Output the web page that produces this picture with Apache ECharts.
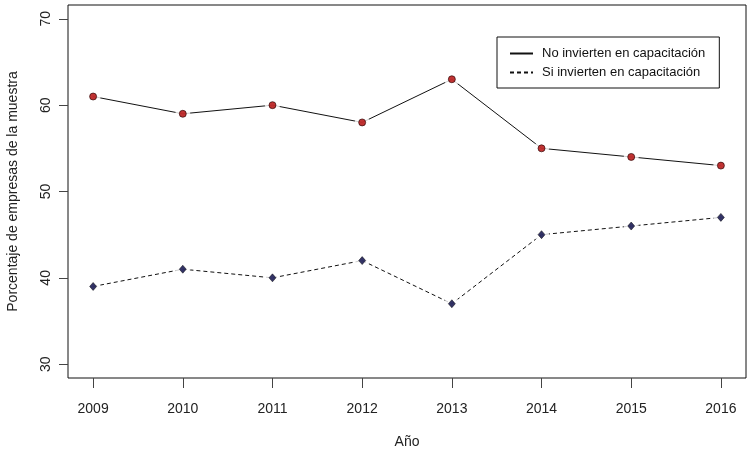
<!DOCTYPE html>
<html><head><meta charset="utf-8">
<script src="https://cdn.jsdelivr.net/npm/echarts@6/dist/echarts.min.js"></script>
<style>html,body{margin:0;padding:0;background:#fff}#c{width:754px;height:459px}</style>
</head><body><div id="c"></div>
<script>
const years = [2009, 2010, 2011, 2012, 2013, 2014, 2015, 2016];
const noInvierten = [61, 59, 60, 58, 63, 55, 54, 53];
const siInvierten = [39, 41, 40, 42, 37, 45, 46, 47];
const yTicks = [30, 40, 50, 60, 70];
const nameNo = 'No invierten en capacitación';
const nameSi = 'Si invierten en capacitación';

const pairs = arr => years.map((y, i) => [y, arr[i]]);
const font = '"Liberation Sans", Arial, sans-serif';
const chart = echarts.init(document.getElementById('c'), null, {renderer: 'canvas'});
chart.setOption({
  animation: false,
  backgroundColor: '#fff',
  grid: {left: 68, right: 8, top: 5, bottom: 81, show: true, borderColor: '#111', borderWidth: 1,
         containLabel: false, outerBoundsMode: 'none'},
  legend: {
    left: 497, top: 37, orient: 'vertical', data: [nameNo, nameSi],
    backgroundColor: '#fff', borderColor: '#111', borderWidth: 1,
    padding: [10, 14, 9, 12], itemGap: 6, itemWidth: 23, itemHeight: 10,
    itemStyle: {color: 'transparent', borderWidth: 0},
    textStyle: {fontFamily: font, fontSize: 13, color: '#111', padding: [0, 0, 0, 4]},
    selectedMode: false
  },
  xAxis: {
    type: 'value', min: 2008.72, max: 2016.28,
    name: 'Año', nameLocation: 'middle', nameGap: 57,
    nameTextStyle: {fontFamily: font, fontSize: 14, color: '#222'},
    axisLine: {show: false},
    splitLine: {show: false},
    axisTick: {show: true, length: 10, customValues: years, lineStyle: {color: '#444'}},
    axisLabel: {customValues: years, fontFamily: font, fontSize: 14, color: '#222', margin: 24, formatter: v => String(v)}
  },
  yAxis: {
    type: 'value', min: 28.4, max: 71.6,
    name: 'Porcentaje de empresas de la muestra', nameLocation: 'middle', nameGap: 48,
    nameTextStyle: {fontFamily: font, fontSize: 14, color: '#222'},
    axisLine: {show: false},
    splitLine: {show: false},
    axisTick: {show: true, length: 9, customValues: yTicks, lineStyle: {color: '#444'}},
    axisLabel: {customValues: yTicks, rotate: 90, fontFamily: font, fontSize: 14, color: '#222', margin: 15, formatter: v => String(v)}
  },
  series: [
    {name: nameNo, type: 'line', data: pairs(noInvierten), showSymbol: false, symbol: 'none',
     lineStyle: {color: '#111', width: 1, type: 'solid'}, itemStyle: {color: '#111'}, z: 1},
    {name: nameSi, type: 'line', data: pairs(siInvierten), showSymbol: false, symbol: 'none',
     lineStyle: {color: '#111', width: 1, type: [4, 3]}, itemStyle: {color: '#111'}, z: 1},
    {type: 'scatter', data: pairs(noInvierten), symbol: 'circle', symbolSize: 15,
     itemStyle: {color: '#fff'}, z: 2, silent: true},
    {type: 'scatter', data: pairs(siInvierten), symbol: 'circle', symbolSize: 15,
     itemStyle: {color: '#fff'}, z: 2, silent: true},
    {type: 'scatter', data: pairs(noInvierten), symbol: 'circle', symbolSize: 7,
     itemStyle: {color: '#b00000', borderColor: '#200', borderWidth: 0.8}, z: 3},
    {type: 'scatter', data: pairs(siInvierten), symbol: 'diamond', symbolSize: [7, 8],
     itemStyle: {color: '#000040', borderColor: '#000', borderWidth: 0.6}, z: 3}
  ]
});
</script></body></html>
